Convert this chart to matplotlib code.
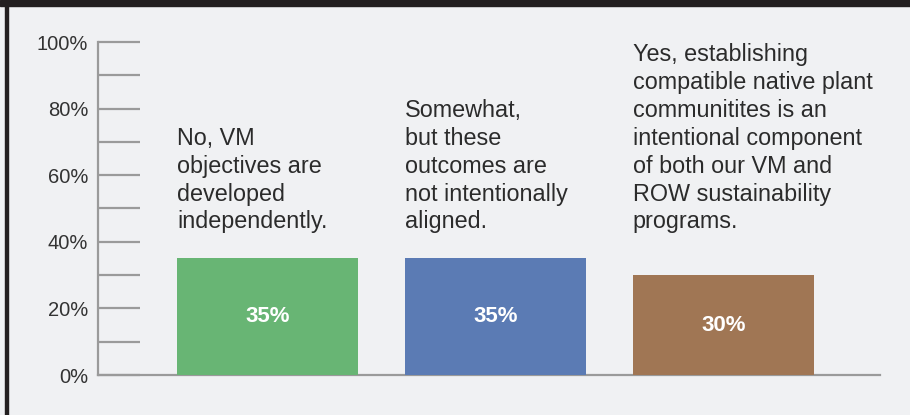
import matplotlib
matplotlib.use('Agg')
import matplotlib.pyplot as plt
from matplotlib.patches import Rectangle

answers = [
    "No, VM\nobjectives are\ndeveloped\nindependently.",
    "Somewhat,\nbut these\noutcomes are\nnot intentionally\naligned.",
    "Yes, establishing\ncompatible native plant\ncommunitites is an\nintentional component\nof both our VM and\nROW sustainability\nprograms.",
]
shares = [35, 35, 30]
bar_colors = ['#68b574', '#5b7bb4', '#a07654']
y_major = [0, 20, 40, 60, 80, 100]
y_minor = [10, 30, 50, 70, 90]

plt.rcParams['font.family'] = ['Liberation Sans', 'DejaVu Sans']
bg = '#f0f1f3'
grey = '#9a9a9a'

fig = plt.figure(figsize=(9.1, 4.15), dpi=100)
fig.patch.set_facecolor(bg)
# frame pieces: dark top strip and left rule
fig.patches.append(Rectangle((0, 1 - 6 / 415), 1, 6 / 415, transform=fig.transFigure,
                             color='#231f20', zorder=0))
fig.patches.append(Rectangle((5 / 910, 0), 3 / 910, 1, transform=fig.transFigure,
                             color='#231f20', zorder=0))

ax = fig.add_axes([98 / 910, 40 / 415, 782 / 910, 333 / 415])
ax.set_facecolor(bg)

bar_w = 0.794
x = list(range(len(shares)))
ax.bar(x, shares, width=bar_w, color=bar_colors, zorder=3)

for xi, v, txt in zip(x, shares, answers):
    ax.text(xi, v / 2, f"{v}%", ha='center', va='center', color='white',
            fontsize=16, fontweight='bold', zorder=4)
    ax.text(xi - bar_w / 2, 42.5, txt, ha='left', va='bottom', color='#2b2b2b',
            fontsize=16.8, linespacing=1.27, clip_on=False)

ax.set_xlim(-0.743, 2.687)
ax.set_ylim(0, 100)
ax.set_xticks([])
ax.set_yticks(y_major)
ax.set_yticklabels([f"{t}%" for t in y_major])
ax.set_yticks(y_minor, minor=True)
ax.tick_params(axis='y', which='both', direction='in', length=30, width=1.6,
               color=grey, labelsize=14.5, labelcolor='#333333', pad=7)
for s in ['top', 'right']:
    ax.spines[s].set_visible(False)
for s in ['left', 'bottom']:
    ax.spines[s].set_color(grey)
    ax.spines[s].set_linewidth(1.6)

plt.savefig('out.png', dpi=100, facecolor=bg)
